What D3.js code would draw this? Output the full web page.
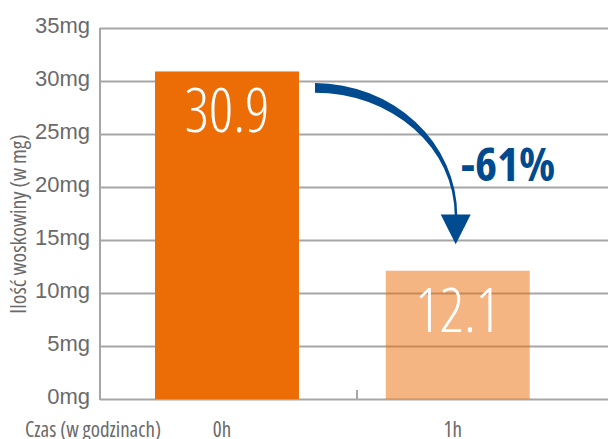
<!DOCTYPE html>
<html>
<head>
<meta charset="utf-8">
<script src="https://cdn.jsdelivr.net/npm/d3@7"></script>
<style>
  body { margin: 0; background: #fff; }
  svg { display: block; font-family: "Open Sans", sans-serif; font-stretch: 75%; }
</style>
</head>
<body>
<svg id="chart" width="608" height="439"></svg>
<script>
// data
const categories = ["0h", "1h"];
const values = [30.9, 12.1];
const valueLabels = ["30.9", "12.1"];
const yTicks = [0, 5, 10, 15, 20, 25, 30, 35];
const changeLabel = "-61%";
const xTitle = "Czas (w godzinach)";
const yTitle = "Ilość woskowiny (w mg)";

const svg = d3.select("#chart");
const W = 608, H = 439;
const margin = { top: 28, right: 0, bottom: 40, left: 100 };
const orange = "#ec6c05", blue = "#004a8f", grid = "#a6a6a6", txt = "#6a6a6a";

const y = d3.scaleLinear().domain([0, 35]).range([399, 28]);
const x = d3.scaleBand()
    .domain(categories)
    .range([155, 529.7])
    .paddingInner(0.376)
    .paddingOuter(0);

// gridlines
svg.append("g")
    .attr("class", "grid")
    .attr("transform", "translate(" + margin.left + ",0)")
    .call(d3.axisLeft(y).tickValues(yTicks).tickSize(-(W - margin.left)).tickFormat(""))
    .call(g => g.select(".domain").remove())
    .call(g => g.selectAll("line").attr("stroke", grid).attr("stroke-width", 2));

// y axis line
svg.append("line")
    .attr("x1", margin.left).attr("x2", margin.left)
    .attr("y1", y(35)).attr("y2", y(0) + 1)
    .attr("stroke", grid).attr("stroke-width", 2);

// divider tick between categories
const divX = x("0h") + x.bandwidth() + 58;
svg.append("line")
    .attr("x1", divX).attr("x2", divX)
    .attr("y1", y(0) - 9).attr("y2", y(0))
    .attr("stroke", grid).attr("stroke-width", 2);

// y tick labels
svg.append("g")
    .attr("transform", "translate(" + margin.left + ",0)")
    .call(d3.axisLeft(y).tickValues(yTicks).tickSize(0).tickPadding(10).tickFormat(d => d + "mg"))
    .call(g => g.select(".domain").remove())
    .call(g => g.selectAll("text")
        .attr("fill", txt)
        .attr("font-size", 22)
        .attr("font-family", null)
        .attr("dy", "0.2em"));

// bars
svg.append("g")
    .selectAll("rect")
    .data(values)
    .join("rect")
    .attr("x", (d, i) => x(categories[i]))
    .attr("y", d => y(d))
    .attr("width", x.bandwidth())
    .attr("height", d => y(0) - y(d))
    .attr("fill", orange)
    .attr("fill-opacity", (d, i) => i === 0 ? 1 : 0.5);

// value labels
svg.append("g")
    .selectAll("text")
    .data(values)
    .join("text")
    .attr("x", (d, i) => x(categories[i]) + x.bandwidth() / 2)
    .attr("y", d => y(d) + 61)
    .attr("text-anchor", "middle")
    .attr("fill", "#fff")
    .attr("font-size", 60)
    .attr("font-weight", 300)
    .text((d, i) => valueLabels[i]);

// x category labels
svg.append("g")
    .selectAll("text")
    .data(categories)
    .join("text")
    .attr("x", d => x(d) + x.bandwidth() / 2 - 5)
    .attr("y", 437)
    .attr("text-anchor", "middle")
    .attr("fill", txt)
    .attr("font-size", 21)
    .text(d => d);

// axis titles
svg.append("text")
    .attr("x", 25).attr("y", 437)
    .attr("fill", txt)
    .attr("font-size", 21)
    .text(xTitle);

svg.append("text")
    .attr("transform", "translate(26,224) rotate(-90)")
    .attr("text-anchor", "middle")
    .attr("fill", txt)
    .attr("font-size", 22)
    .text(yTitle);

// curved arrow from bar 1 to bar 2
const x0 = x("0h") + x.bandwidth() + 16;
const cy = y(17.3);
const xe = x("1h") + x.bandwidth() / 2 - 2;
const rxO = xe + 1.5 - x0, ryO = cy - y(29.8);
const rxI = xe - 1 - x0, ryI = cy - y(28.9);
const arrowPath = "M" + x0 + "," + (cy - ryO) +
    " A" + rxO + "," + ryO + " 0 0 1 " + (x0 + rxO) + "," + cy +
    " L" + (x0 + rxI) + "," + cy +
    " A" + rxI + "," + ryI + " 0 0 0 " + x0 + "," + (cy - ryI) + " Z";
svg.append("path").attr("d", arrowPath).attr("fill", blue);

const tipY = y(14.6);
svg.append("path")
    .attr("d", "M" + (xe - 15) + "," + (cy - 1) + " L" + (xe + 15) + "," + (cy - 1) + " L" + xe + "," + tipY + " Z")
    .attr("fill", blue);

svg.append("text")
    .attr("x", 508).attr("y", 181)
    .attr("text-anchor", "middle")
    .attr("fill", blue)
    .attr("font-size", 47)
    .attr("font-weight", "bold")
    .text(changeLabel);
</script>
</body>
</html>
